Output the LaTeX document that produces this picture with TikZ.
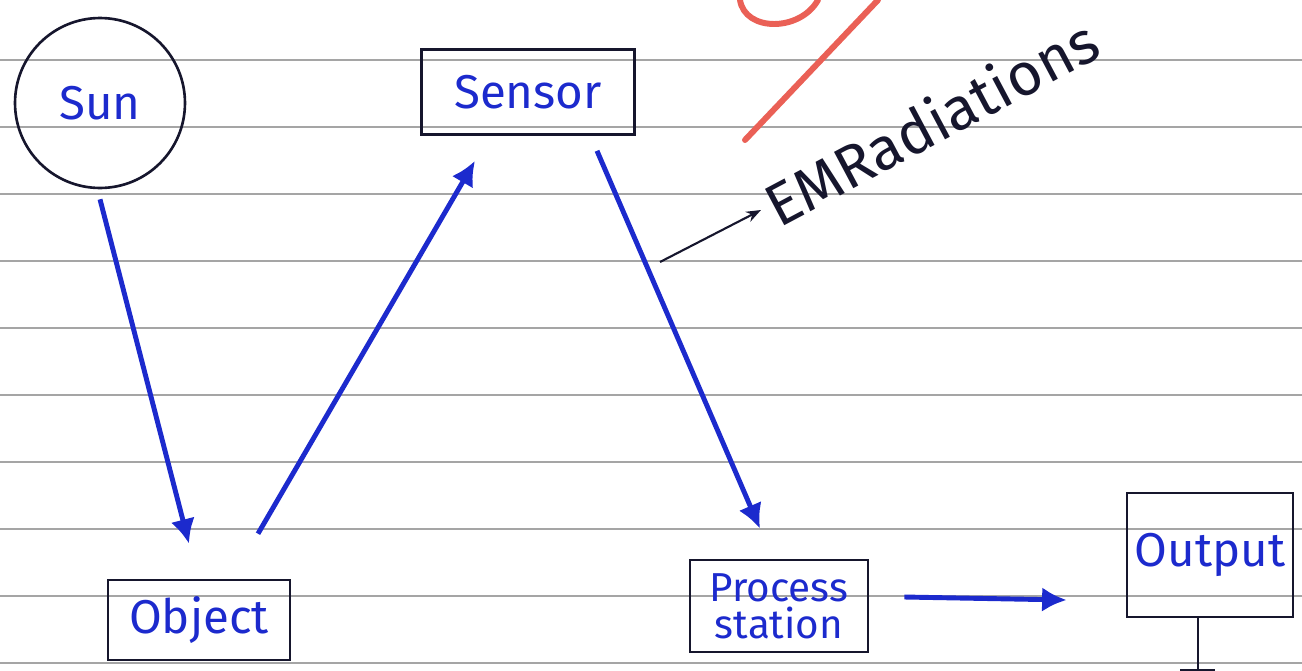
\documentclass[tikz,border=0pt]{standalone}
\usepackage{fontspec}
\setmainfont{Fira Sans}
\usetikzlibrary{arrows.meta}

\definecolor{ink}{RGB}{28,42,205}
\definecolor{pencil}{RGB}{22,22,45}
\definecolor{redpen}{RGB}{234,96,86}
\definecolor{ruling}{RGB}{165,165,165}

\tikzset{
  box/.style={draw=pencil, line width=1.5pt, inner sep=0pt, text=ink},
  big/.style={font=\fontsize{27}{27}\selectfont},
  flow/.style={-{Latex[length=14pt,width=14pt]}, ink, line width=2.8pt},
}

\begin{document}
\begin{tikzpicture}[x=0.02cm, y=-0.02cm]
    \useasboundingbox (0,0) rectangle (1302,670);

    % Ruled paper lines
    \foreach \y in {60,127,194,261,328,395,462,529,596,663} {
        \draw[ruling, line width=0.9pt] (0,\y) -- (1302,\y);
    }

    % Red pen mark at the top
    \draw[redpen, line width=3.4pt, line cap=round] (745,140) -- (878,0);
    \draw[redpen, line width=3.4pt, line cap=round] (740,0) .. controls (745,32) and (800,32) .. (818,0);

    % Blocks
    \node[box, circle, minimum size=3.4cm, big] (sun) at (100,103) {Sun};
    \node[box, minimum width=4.26cm, minimum height=1.7cm, big] (sensor) at (528,92) {Sensor};
    \node[box, minimum width=3.64cm, minimum height=1.6cm, big] (object) at (199,620) {Object};
    \node[box, minimum width=3.56cm, minimum height=1.84cm, align=center,
          font=\fontsize{23}{21}\selectfont] (process) at (779,606) {Process\\station};
    \node[box, minimum width=3.32cm, minimum height=2.48cm, big] (output) at (1210,555) {Output};

    % Output stand
    \coordinate (standtop) at ([xshift=-0.24cm]output.south);
    \coordinate (standbot) at ([yshift=-1.04cm]standtop);
    \draw[pencil, line width=1.5pt] (standtop) -- (standbot);
    \draw[pencil, line width=2pt] ([xshift=-0.36cm]standbot) -- ([xshift=0.34cm]standbot);

    % Flow of radiation
    \draw[flow] ([yshift=-0.2cm]sun.south) -- ([xshift=-0.2cm,yshift=0.7cm]object.north);
    \draw[flow] ([xshift=1.18cm,yshift=0.9cm]object.north) -- ([xshift=-1.06cm,yshift=-0.5cm]sensor.south);
    \draw[flow] ([xshift=1.38cm,yshift=-0.3cm]sensor.south) -- ([xshift=-0.38cm,yshift=0.6cm]process.north);
    \draw[flow] ([xshift=0.7cm,yshift=0.18cm]process.east) -- ([xshift=-1.18cm,yshift=-0.9cm]output.west);

    % EM radiation label
    \coordinate (em) at (660,262);
    \node[pencil, anchor=west, rotate=28, inner sep=0pt,
          font=\fontsize{34}{34}\selectfont] (emtext) at (768,208) {EMRadiations};
    \draw[->, >=Stealth, pencil, line width=1.2pt] (em) -- ([xshift=-0.14cm,yshift=-0.04cm]emtext.west);
\end{tikzpicture}
\end{document}
